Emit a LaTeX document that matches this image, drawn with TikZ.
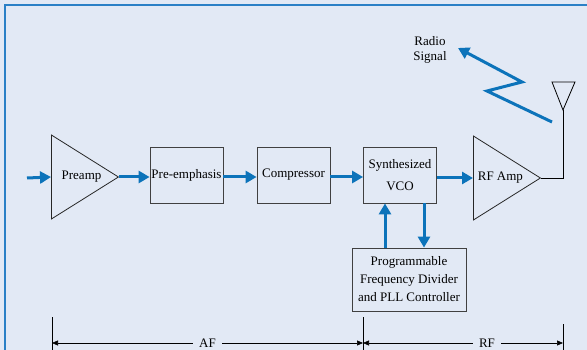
\documentclass[tikz,border=0pt]{standalone}
\usepackage{fontspec}
\setmainfont{Liberation Serif}
\usetikzlibrary{positioning,arrows.meta,shapes.geometric}

\definecolor{panelbg}{HTML}{E2E9F5}
\definecolor{sigblue}{HTML}{0C73BA}
\definecolor{frameblue}{HTML}{2B80C6}

\tikzset{
  sig/.style={line width=3pt, sigblue, -{Triangle[length=11pt,width=12pt]}},
  blockbox/.style={draw=black!75, line width=0.8pt, minimum width=73pt,
    minimum height=56pt, inner sep=0pt, align=center},
  amp/.style={draw=black!85, line width=0.8pt, isosceles triangle,
    isosceles triangle stretches, minimum width=84pt, minimum height=67pt,
    inner sep=0pt, anchor=west},
  dimline/.style={line width=0.6pt, {Triangle[length=6pt,width=5pt]}-{Triangle[length=6pt,width=5pt]}},
  tick/.style={line width=0.8pt}
}

\begin{document}
\begin{tikzpicture}[x=1pt, y=-1pt, font=\fontsize{13}{16}\selectfont]
    \useasboundingbox (0,0) rectangle (587,350);

    % Panel
    \fill[panelbg] (0,0) rectangle (587,350);
    \draw[frameblue, line width=2.2pt] (5,350) -- (5,5) -- (587,5);

    % Blocks
    \coordinate (input) at (27,178);
    \node[amp] (preamp) at (51,177) {\hspace{6pt}Preamp};
    \node[blockbox] (preemph) at (186.5,175) {Pre-emphasis};
    \node[blockbox] (compressor) at (293.5,175) {Compressor};
    \node[blockbox] (vco) at (400,175) {Synthesized\\[6pt]VCO};
    \node[amp] (rfamp) at (473,178) {RF Amp};
    \node[blockbox, minimum width=114pt, minimum height=63pt,
      font=\fontsize{13}{18}\selectfont] (divider) at (409,279.5)
      {Programmable\\Frequency Divider\\and PLL Controller};

    % Signal path
    \draw[sig] (input) -- (preamp.west);
    \draw[sig] (preamp.east) -- (preemph.west |- preamp.east);
    \draw[sig] (preemph.east |- preamp.east) -- (compressor.west |- preamp.east);
    \draw[sig] (compressor.east |- preamp.east) -- (vco.west |- preamp.east);
    \draw[sig] (vco.east |- rfamp.west) -- (rfamp.west);

    % PLL loop
    \draw[sig] ([xshift=-15pt]vco.south |- divider.north) -- ([xshift=-15pt]vco.south);
    \draw[sig] ([xshift=24pt]vco.south) -- ([xshift=24pt]vco.south |- divider.north);

    % Antenna
    \coordinate (antfeed) at (563,110);
    \draw[line width=0.8pt] (rfamp.east) -| (antfeed);
    \draw[line width=0.8pt] (antfeed) -- (552,82) -- (575,82) -- cycle;

    % Radio signal
    \node[align=center, font=\fontsize{13}{15}\selectfont] (radio) at (430,50) {Radio\\Signal};
    \draw[sig, line join=miter] (552,122) -- (487,91) -- (522,82) -- (458,48);

    % AF / RF ranges
    \coordinate (afstart) at (52,343);
    \coordinate (afend) at (363,343);
    \coordinate (rfend) at (563,343);
    \draw[tick] (52,317) -- (52,350);
    \draw[tick] (363,317) -- (363,350);
    \draw[tick] (563,324) -- (563,350);
    \draw[dimline] (afstart) -- node[fill=panelbg, inner xsep=6pt, inner ysep=0pt] {AF} (afend);
    \draw[dimline] (afend) -- node[pos=0.62, fill=panelbg, inner xsep=6pt, inner ysep=0pt] {RF} (rfend);
\end{tikzpicture}
\end{document}
